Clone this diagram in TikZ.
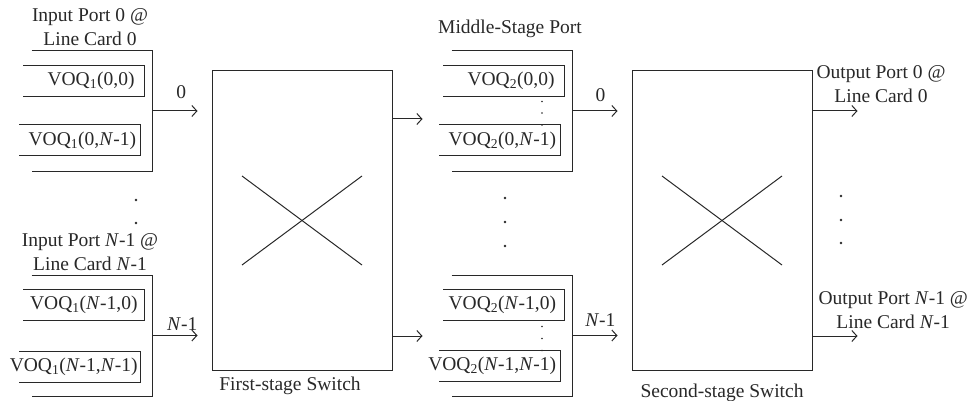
\documentclass[tikz,border=0pt]{standalone}
\usepackage{fontspec}
\setmainfont{Liberation Serif}
\usetikzlibrary{arrows.meta,positioning,calc}
\definecolor{linegray}{RGB}{40,40,40}

\begin{document}
\begin{tikzpicture}[
    x=1pt, y=-1pt,
    line width=1pt, color=linegray,
    font=\fontsize{19.5pt}{24pt}\selectfont,
    every node/.style={inner sep=3pt},
    port/.style={minimum width=120pt, minimum height=120pt, inner sep=0pt},
    voq/.style={anchor=east, minimum height=30pt, inner xsep=6pt, inner ysep=0pt},
    switchbox/.style={draw, minimum width=180pt, minimum height=299pt, inner sep=0pt},
    caption/.style={align=center},
    arrow/.style={-{Straight Barb[length=5pt,width=11pt]}},
    bigdot/.style={circle, fill, inner sep=0pt, minimum size=2.6pt},
    smalldot/.style={circle, fill, inner sep=0pt, minimum size=1.6pt}
]
\useasboundingbox (0,0) rectangle (970,401);

% Ports
\node[port] (in0) at (92,111) {};
\node[port] (in1) at (92,335.5) {};
\node[port] (mid0) at (512,111) {};
\node[port] (mid1) at (512,335.5) {};
\foreach \p in {in0,in1,mid0,mid1}
  \draw (\p.north west) -- (\p.north east) -- (\p.south east) -- (\p.south west);

\node[caption, above=1pt of in0, xshift=-2pt] (in0lbl) {Input Port 0 @\\Line Card 0};
\node[caption, above=1pt of in1, xshift=-2pt] (in1lbl) {Input Port \textit{N}-1 @\\Line Card \textit{N}-1};
\node[above=9pt of mid0, xshift=-2pt] (midlbl) {Middle-Stage Port};

% VOQs
\node[voq, inner xsep=9pt] (q1a) at (144,81) {VOQ\textsubscript{1}(0,0)};
\node[voq, inner xsep=3.5pt] (q1b) at (140,140.5) {VOQ\textsubscript{1}(0,\textit{N}-1)};
\node[voq] (q1c) at (144,305) {VOQ\textsubscript{1}(\textit{N}-1,0)};
\node[voq, inner xsep=2pt] (q1d) at (140,366.5) {VOQ\textsubscript{1}(\textit{N}-1,\textit{N}-1)};
\node[voq, inner xsep=9pt] (q2a) at (564,81) {VOQ\textsubscript{2}(0,0)};
\node[voq, inner xsep=3.5pt] (q2b) at (560,140.5) {VOQ\textsubscript{2}(0,\textit{N}-1)};
\node[voq, inner xsep=7.5pt] (q2c) at (564,305) {VOQ\textsubscript{2}(\textit{N}-1,0)};
\node[voq, inner xsep=3.5pt] (q2d) at (560,366) {VOQ\textsubscript{2}(\textit{N}-1,\textit{N}-1)};
\foreach \q in {q1a,q1b,q1c,q1d,q2a,q2b,q2c,q2d}
  \draw ([xshift=-121pt]\q.north east) -- (\q.north east) -- (\q.south east) -- ([xshift=-121pt]\q.south east);

% Switches
\node[switchbox] (sw1) at (302,220.5) {};
\node[switchbox] (sw2) at (722,220.5) {};
\foreach \s in {sw1,sw2} {
  \draw ($(\s.center)+(-60,-44.5)$) -- ($(\s.center)+(60,44.5)$);
  \draw ($(\s.center)+(-60,44.5)$) -- ($(\s.center)+(60,-44.5)$);
}
\node[below=3pt of sw1, xshift=-12pt] (sw1lbl) {First-stage Switch};
\node[below=10pt of sw2] (sw2lbl) {Second-stage Switch};

% Connectors
\draw[arrow] (in0.east) -- ++(45,0) node[pos=0.64, above=8.5pt] (in0num) {0};
\draw[arrow] (in1.east) -- ++(45,0) node[pos=0.66, above=1.3pt] (in1num) {\textit{N}-1};
\draw[arrow] ([yshift=101.5pt]sw1.east) -- ++(30,0);
\draw[arrow] ([yshift=-115.5pt]sw1.east) -- ++(30,0);
\draw[arrow] (mid0.east) -- ++(45,0) node[pos=0.62, above=6pt] (mid0num) {0};
\draw[arrow] (mid1.east) -- ++(45,0) node[pos=0.62, above=6pt] (mid1num) {\textit{N}-1};
\draw[arrow] ([yshift=109.5pt]sw2.east) -- ++(45,0);
\draw[arrow] ([yshift=-115.5pt]sw2.east) -- ++(45,0);

\node[caption, anchor=south west] (out0lbl) at (813,106.5) {Output Port 0 @\\Line Card 0};
\node[caption, anchor=south west] (out1lbl) at (815,332.5) {Output Port \textit{N}-1 @\\Line Card \textit{N}-1};

% Dots
\foreach \y [count=\i] in {200,223} \node[bigdot] (ldot\i) at (136,\y) {};
\foreach \y [count=\i] in {198,222,246} \node[bigdot] (mdot\i) at (505,\y) {};
\foreach \y [count=\i] in {196,220,243} \node[bigdot] (rdot\i) at (841,\y) {};
\foreach \y [count=\i] in {101.5,113,125} \node[smalldot] (qdota\i) at (542,\y) {};
\foreach \y [count=\i] in {326.5,338.5,350.5} \node[smalldot] (qdotb\i) at (542,\y) {};

\end{tikzpicture}
\end{document}
